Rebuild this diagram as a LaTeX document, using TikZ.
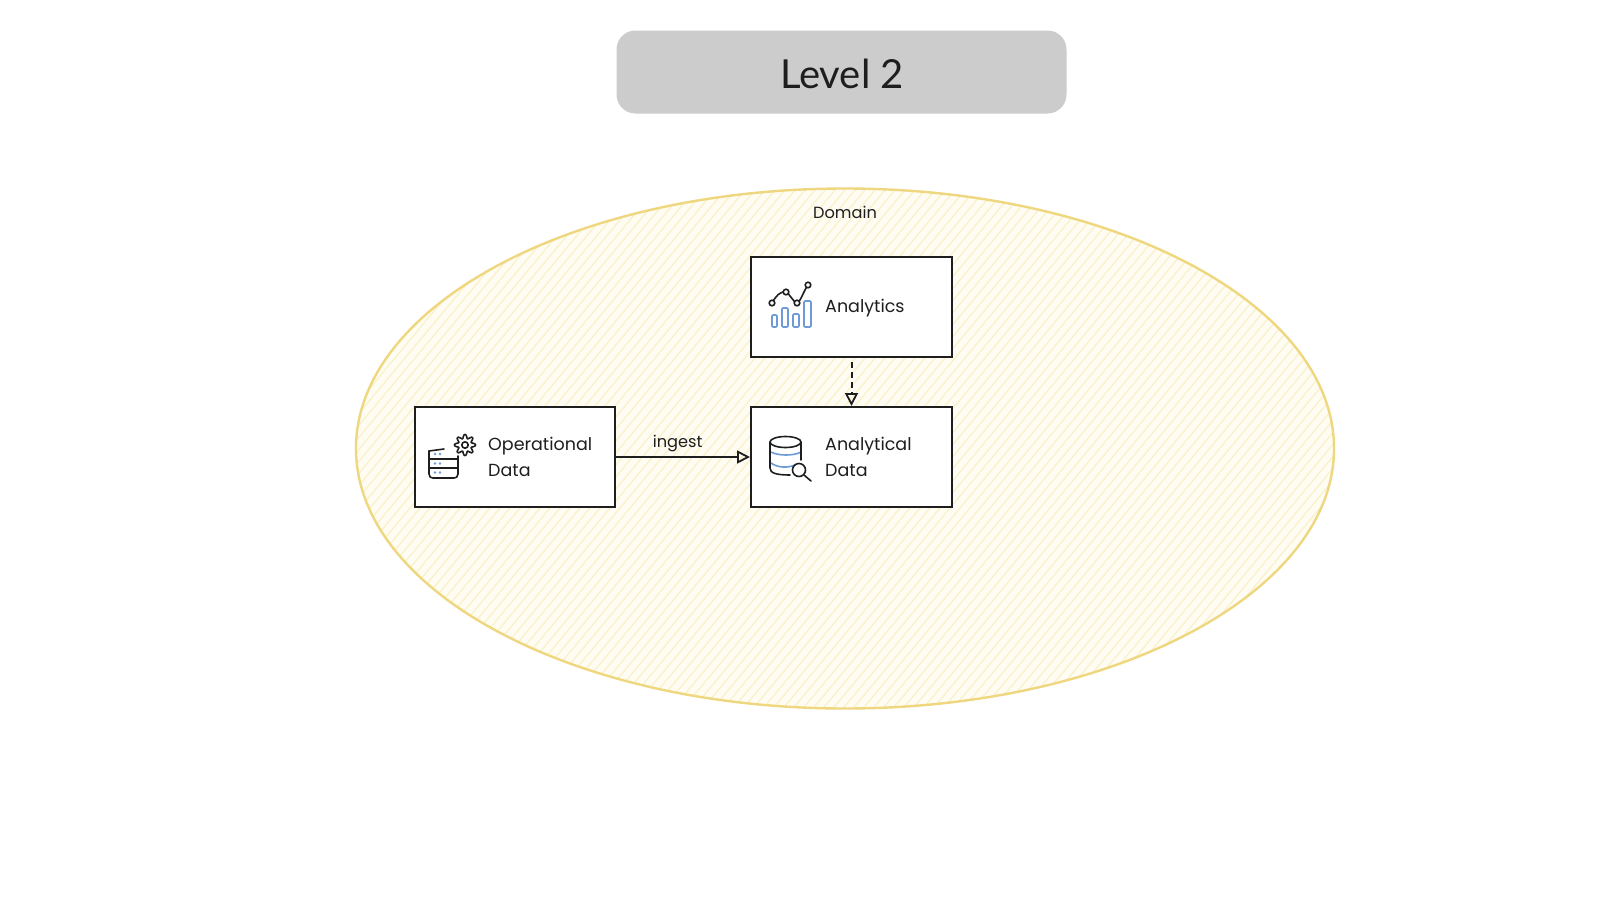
\documentclass[tikz,border=0pt]{standalone}
\usepackage{fontspec}
\usetikzlibrary{arrows.meta}
\setmainfont{Poppins}
\newfontfamily\titlefont{Lato}
\definecolor{rim}{HTML}{EFD77F}
\definecolor{hatch}{HTML}{F9F2CC}
\definecolor{wash}{HTML}{FFFDF3}
\definecolor{ink}{HTML}{1E1E1E}
\definecolor{iconblue}{HTML}{6E9BD8}
\definecolor{pill}{HTML}{CCCCCC}
\tikzset{
  x=1pt,y=-1pt,
  card/.style={draw=ink,fill=white,line width=2pt,minimum width=201pt,minimum height=100pt,inner sep=0pt},
  hand/.style={font=\fontsize{17.5}{22}\selectfont,text=ink,inner sep=0pt,align=left},
  small/.style={font=\fontsize{16.2}{20}\selectfont},
  link/.style={draw=ink,line width=2pt,-{Triangle[open,length=13pt,width=13pt,line width=1.8pt]}},
  iconline/.style={draw=ink,line width=1.6pt,line cap=round,line join=round},
  iconblueline/.style={draw=iconblue,line width=1.6pt,line cap=round,line join=round},
}
\begin{document}
\begin{tikzpicture}
\useasboundingbox (0,0) rectangle (1600,900);
\fill[white] (0,0) rectangle (1600,900);
% title
\node[fill=pill,rounded corners=19pt,minimum width=450pt,minimum height=83pt,inner sep=0pt] (titlebox) at (841.5,72) {};
\node[font=\titlefont\fontsize{40}{46}\selectfont,text=ink,inner sep=0pt] (title) at (842,74) {Level 2};
% domain ellipse with hachure
\begin{scope}
  \clip (845,448.5) ellipse [x radius=489, y radius=260];
  \fill[wash] (300,150) rectangle (1400,750);
  \foreach \k in {0,...,170}{
    \draw[hatch,line width=1.4pt] ({-250+\k*10},760) -- ({-250+\k*10+500},160);
  }
\end{scope}
\draw[rim,line width=2.4pt] (845,448.5) ellipse [x radius=489, y radius=260];
\node[hand,small] (domain) at (845,212) {Domain};
% boxes
\node[card] (analytics) at (851.5,307) {};
\node[card] (analytical) at (851.5,457) {};
\node[card,minimum width=200pt] (operational) at (515,457) {};
% labels
\node[hand,anchor=west] (analyticsT) at (825,308) {Analytics};
\node[hand,anchor=west] (analyticalT) at (825,446) {Analytical};
\node[hand,anchor=west] (analyticalU) at (825,470) {Data};
\node[hand,anchor=west] (operationalT) at (488,446) {Operational};
\node[hand,anchor=west] (operationalU) at (488,470) {Data};
% connectors
\draw[link] (operational.east) -- node[hand,small,pos=0.46,above=4pt] (ingest) {ingest} (analytical.west);
\draw[link,dash pattern=on 6pt off 4pt] ([yshift=-4pt]analytics.south) -- (analytical.north);
% analytics icon
\draw[iconline] (772,303) .. controls (776,296) and (780,291) .. (786,292) .. controls (790,294) and (793,302) .. (797,303) .. controls (801,301) and (803,292) .. (808,285);
\foreach \p in {(772,303),(786,292),(797,303),(808,285)}{
  \draw[iconline,fill=white] \p circle (2.8);
}
\foreach \a/\b/\c in {772/777/315,782/788/308,793/799/314,804/811/301}{
  \draw[iconblueline,rounded corners=1pt] (\a,\c) rectangle (\b,327);
}
% database icon
\draw[iconblueline] (771,452) .. controls (778,456) and (794,456) .. (801,452);
\draw[iconblueline] (771,463) .. controls (778,468) and (788,468) .. (795,465);
\draw[iconline] (785.5,442) ellipse [x radius=15.5, y radius=5.5];
\draw[iconline] (770,442) -- (770,468) .. controls (770,473) and (776,475) .. (790,475);
\draw[iconline] (801,442) -- (801,460);
\draw[iconline] (799,470) circle (6.5);
\draw[iconline] (804,475) -- (811,481);
% server icon
\draw[iconline] (429,451) -- (444,449);
\draw[iconline] (429,451) -- (429,474) .. controls (429,477) and (431,478) .. (433,478) -- (454,478) .. controls (456,478) and (458,477) .. (458,474) -- (458,456);
\draw[iconline] (429,459) -- (457,459);
\draw[iconline] (429,468) -- (457,468);
\foreach \y in {454,463.5,472.5}{
  \fill[iconblue] (435,\y) circle (1.3);
  \fill[iconblue] (440,\y) circle (1.3);
}
\draw[iconline] plot[domain=0:360,samples=73,smooth] ({465+(8.6+2*cos(8*\x))*cos(\x)},{445+(8.6+2*cos(8*\x))*sin(\x)}) -- cycle;
\draw[iconline] (465,445) circle (3.2);
\end{tikzpicture}
\end{document}
